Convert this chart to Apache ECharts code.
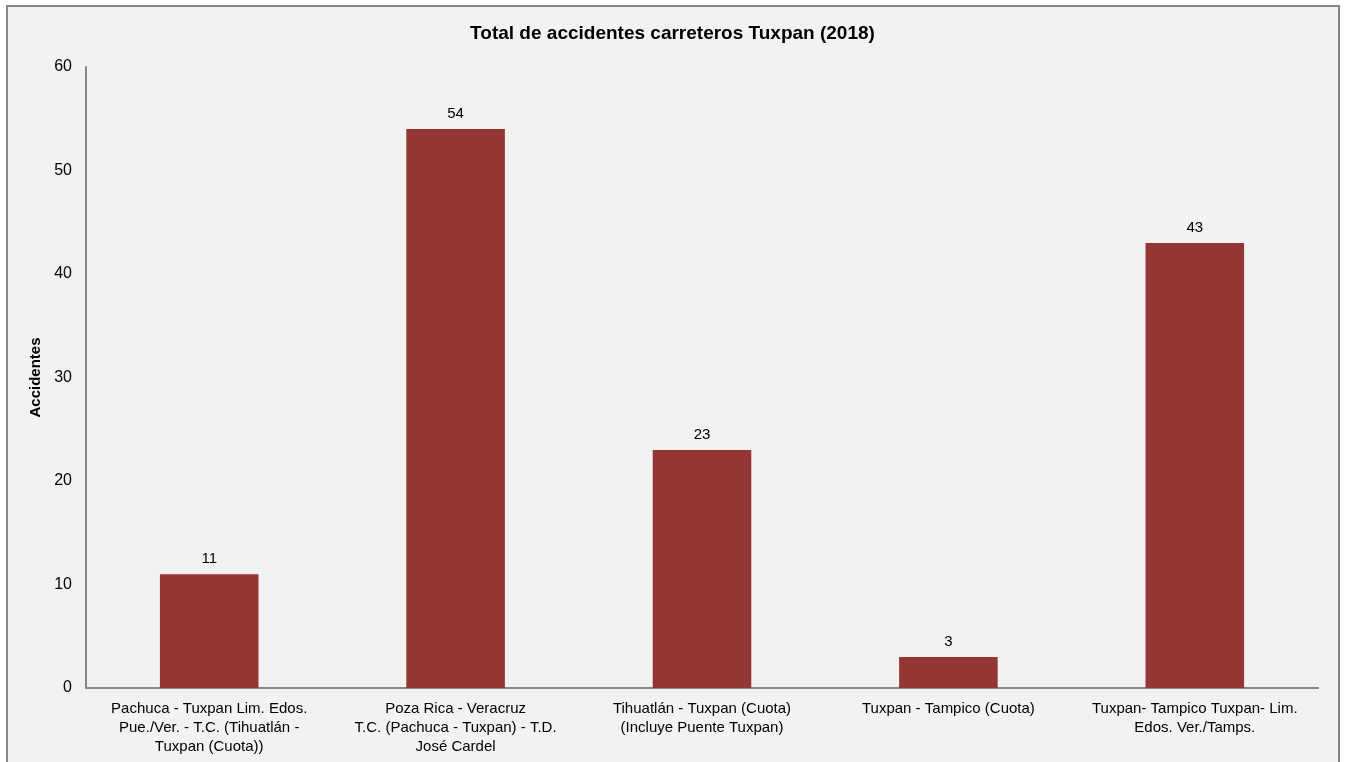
<!DOCTYPE html>
<html>
<head>
<meta charset="utf-8">
<script src="https://cdn.jsdelivr.net/npm/echarts@6/dist/echarts.min.js"></script>
<style>
  html, body { margin: 0; padding: 0; background: #fff; }
  #chart { width: 1345px; height: 762px; }
</style>
</head>
<body>
<div id="chart"></div>
<script>
var categories = [
  'Pachuca - Tuxpan Lim. Edos.\nPue./Ver. - T.C. (Tihuatlán -\nTuxpan (Cuota))',
  'Poza Rica - Veracruz\nT.C. (Pachuca - Tuxpan) - T.D.\nJosé Cardel',
  'Tihuatlán - Tuxpan (Cuota)\n(Incluye Puente Tuxpan)',
  'Tuxpan - Tampico (Cuota)',
  'Tuxpan- Tampico Tuxpan- Lim.\nEdos. Ver./Tamps.'
]
var accidentes = [11, 54, 23, 3, 43]
var yTicks = [0, 10, 20, 30, 40, 50, 60]

var font = '"Liberation Sans", Arial, sans-serif'
var myChart = echarts.init(document.getElementById('chart'))

var option = {
  backgroundColor: '#fff',
  animation: false,
  graphic: [{
    type: 'rect',
    z: -10,
    shape: { x: 7, y: 6, width: 1332, height: 800 },
    style: { fill: '#f2f2f2', stroke: '#868686', lineWidth: 2 }
  }],
  title: {
    text: 'Total de accidentes carreteros Tuxpan (2018)',
    left: 'center',
    top: 19,
    textStyle: { fontFamily: font, fontSize: 19, fontWeight: 'bold', color: '#000' }
  },
  grid: { left: 86, right: 27, top: 67, bottom: 74 },
  xAxis: {
    type: 'category',
    data: categories,
    axisLine: { lineStyle: { color: '#868686', width: 2 } },
    axisTick: { show: false },
    axisLabel: {
      interval: 0,
      margin: 11,
      fontFamily: font,
      fontSize: 15,
      lineHeight: 19,
      color: '#000'
    }
  },
  yAxis: {
    type: 'value',
    min: yTicks[0],
    max: yTicks[yTicks.length - 1],
    interval: 10,
    name: 'Accidentes',
    nameLocation: 'middle',
    nameGap: 37,
    nameTextStyle: { fontFamily: font, fontSize: 15, fontWeight: 'bold', color: '#000' },
    axisLine: { show: true, lineStyle: { color: '#868686', width: 2 } },
    axisTick: { show: false },
    splitLine: { show: false },
    axisLabel: { fontFamily: font, fontSize: 16, color: '#000', margin: 14 }
  },
  series: [{
    type: 'bar',
    data: accidentes,
    barWidth: '40%',
    itemStyle: { color: '#943634' },
    label: {
      show: true,
      position: 'top',
      distance: 8,
      fontFamily: font,
      fontSize: 15,
      color: '#000'
    }
  }]
}

myChart.setOption(option)
</script>
</body>
</html>
